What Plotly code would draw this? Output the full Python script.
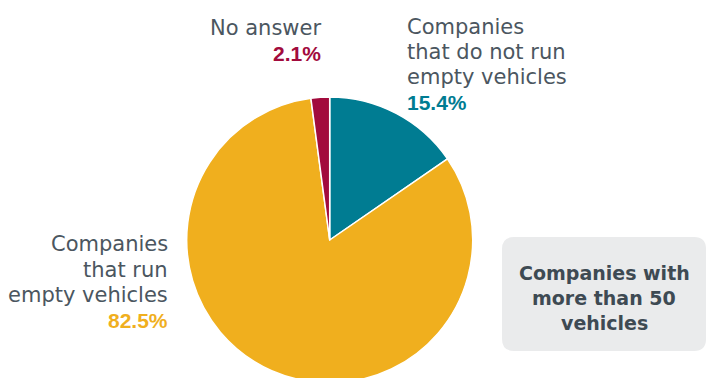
import plotly.graph_objects as go

# ---- data ----
categories = ["Companies<br>that do not run<br>empty vehicles",
              "Companies<br>that run<br>empty vehicles",
              "No answer"]
values = [15.4, 82.5, 2.1]
colors = ["#007C92", "#F0AF1E", "#A20B3D"]
box_text = "Companies with<br>more than 50<br>vehicles"

# figure placed at page origin (body margin removed below)
OX, OY = 0, 0
W, H = 707, 392
TEXT = "#4B5660"
WORD_FONT = "DejaVu Sans"
NUM_FONT = "Liberation Sans"

def px(x):
    return (x - OX) / W

def py(y):
    return 1 - (y - OY) / H

fig = go.Figure()
fig.add_trace(go.Pie(
    values=values,
    labels=[c.replace("<br>", " ") for c in categories],
    marker=dict(colors=colors, line=dict(color="white", width=1.5)),
    sort=False,
    direction="clockwise",
    rotation=0,
    textinfo="none",
    hoverinfo="label+percent",
    showlegend=False,
    domain=dict(x=[px(186.7), px(472.7)], y=[py(383), py(97)]),
))

# label placement: (anchor x, first-line centre y, xanchor)
label_pos = [(405, 25.8, "left"), (170, 243.3, "right"), (323, 27.3, "right")]
PITCH = 25.3
for i, (ax, ay, xa) in enumerate(label_pos):
    lines = categories[i].split("<br>")
    for j, ln in enumerate(lines):
        fig.add_annotation(xref="paper", yref="paper", showarrow=False,
                           text=ln, x=px(ax), y=py(ay + j * PITCH + 1),
                           xanchor=xa, yanchor="middle",
                           font=dict(family=WORD_FONT, size=21, color=TEXT))
    fig.add_annotation(xref="paper", yref="paper", showarrow=False,
                       text=f"<b>{values[i]:.1f}%</b>",
                       x=px(ax), y=py(ay + len(lines) * PITCH + 1),
                       xanchor=xa, yanchor="middle",
                       font=dict(family=NUM_FONT, size=21, color=colors[i]))

# rounded box
x0, x1, y0, y1 = 502, 706, 237, 351
r = 12
path = (f"M {px(x0+r)},{py(y0)} L {px(x1-r)},{py(y0)} Q {px(x1)},{py(y0)} {px(x1)},{py(y0+r)} "
        f"L {px(x1)},{py(y1-r)} Q {px(x1)},{py(y1)} {px(x1-r)},{py(y1)} "
        f"L {px(x0+r)},{py(y1)} Q {px(x0)},{py(y1)} {px(x0)},{py(y1-r)} "
        f"L {px(x0)},{py(y0+r)} Q {px(x0)},{py(y0)} {px(x0+r)},{py(y0)} Z")
fig.add_shape(type="path", xref="paper", yref="paper", path=path,
              fillcolor="#EAEBEC", line=dict(width=0), layer="below")
for j, ln in enumerate(box_text.split("<br>")):
    fig.add_annotation(xref="paper", yref="paper", showarrow=False,
                       text=f"<b>{ln}</b>", x=px(604), y=py(272 + j * 25 + 1),
                       xanchor="center", yanchor="middle",
                       font=dict(family=WORD_FONT, size=19, color="#3E4A53"))

fig.update_layout(width=W, height=H, autosize=False,
                  margin=dict(l=0, r=0, t=0, b=0),
                  paper_bgcolor="white", plot_bgcolor="white")

fig.write_html("out.html",
               config={"displayModeBar": False},
               post_script="document.body.style.margin='0';"
                           "document.documentElement.style.overflow='hidden';")
